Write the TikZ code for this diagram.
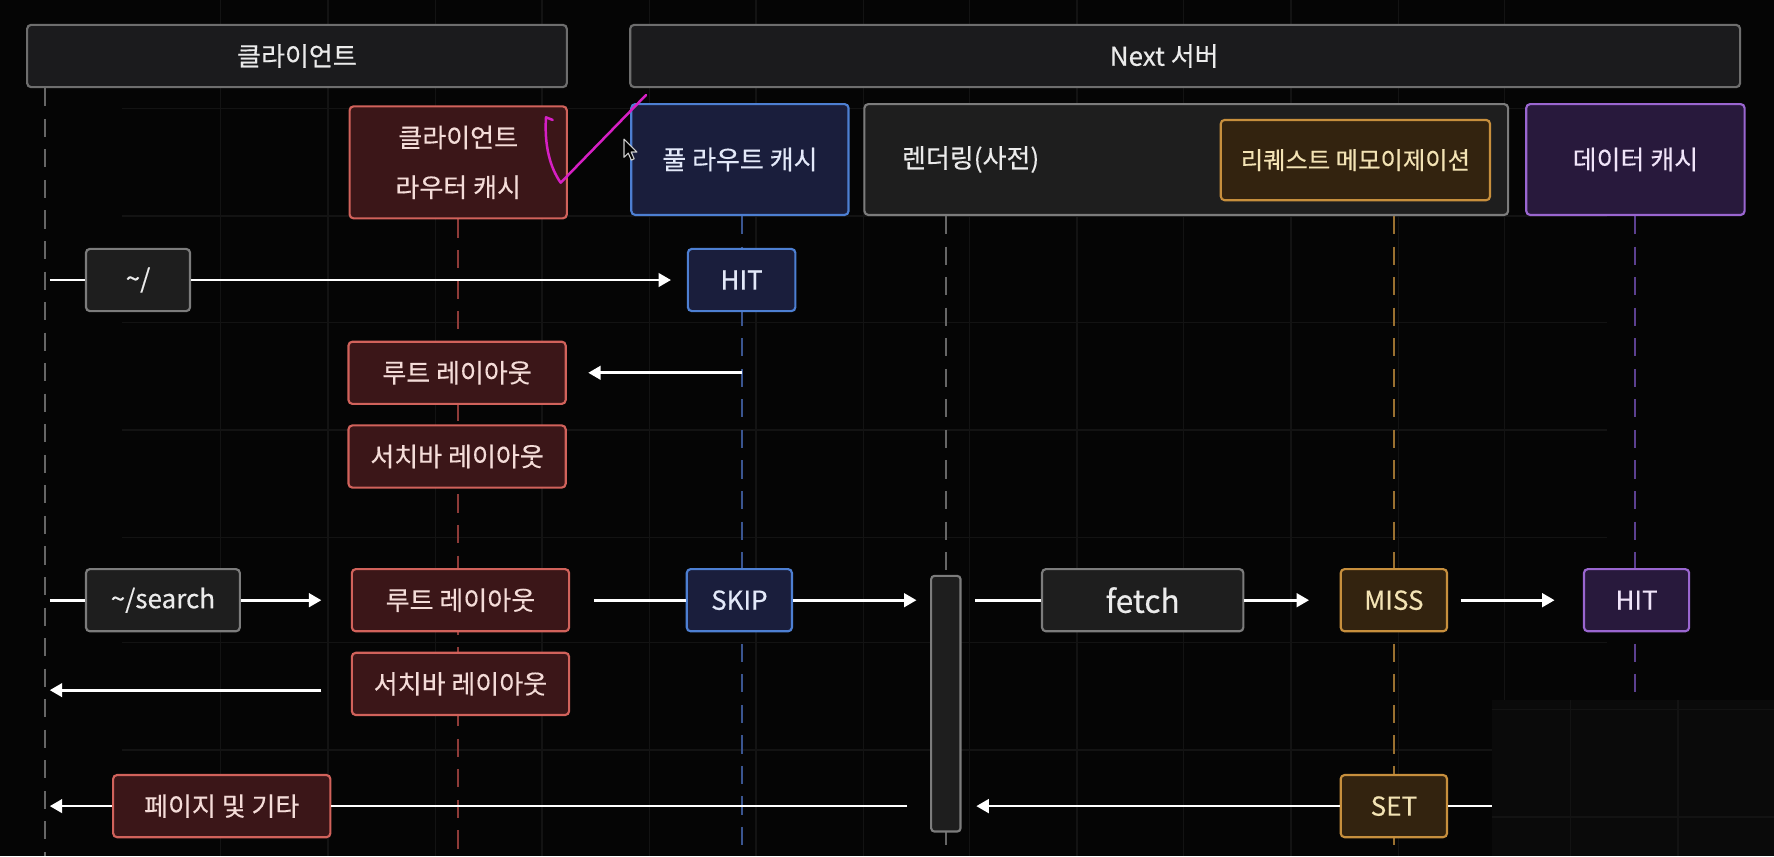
\documentclass[tikz,border=0pt]{standalone}
\usepackage{fontspec}
\setmainfont{Noto Sans CJK KR}[FakeBold=0.35]
\usetikzlibrary{arrows.meta}
\definecolor{bgc}{HTML}{050505}
\definecolor{gridc}{HTML}{131313}
\definecolor{hdrfill}{HTML}{1B1B1D}
\definecolor{hdrdraw}{HTML}{6E6E6E}
\definecolor{grayfill}{HTML}{1E1E1E}
\definecolor{graydraw}{HTML}{7C7C7C}
\definecolor{redfill}{HTML}{3B1618}
\definecolor{reddraw}{HTML}{D1625B}
\definecolor{redtext}{HTML}{F4DCD8}
\definecolor{bluefill}{HTML}{1A1E3C}
\definecolor{bluedraw}{HTML}{4D7FD2}
\definecolor{bluetext}{HTML}{E3E9F9}
\definecolor{orfill}{HTML}{33230F}
\definecolor{ordraw}{HTML}{C78F3D}
\definecolor{ortext}{HTML}{F3E3B4}
\definecolor{pufill}{HTML}{28193C}
\definecolor{pudraw}{HTML}{9A66D0}
\definecolor{putext}{HTML}{F0E4F9}
\definecolor{lgray}{HTML}{666666}
\definecolor{lred}{HTML}{8E3B38}
\definecolor{lblue}{HTML}{3A5590}
\definecolor{lorange}{HTML}{9A7030}
\definecolor{lpurple}{HTML}{5C4090}
\definecolor{pinkc}{HTML}{D61FC4}
\definecolor{txt}{HTML}{EBEBEB}
\definecolor{patchc}{HTML}{0A0A0A}
\begin{document}
\begin{tikzpicture}[x=1pt,y=-1pt,
  box/.style={rounded corners=3.5pt, line width=1.9pt, inner sep=0pt, align=center,
    font=\fontsize{23}{27}\selectfont},
  hdrbox/.style={box, fill=hdrfill, draw=hdrdraw, text=txt},
  graybox/.style={box, fill=grayfill, draw=graydraw, text=txt},
  redbox/.style={box, fill=redfill, draw=reddraw, text=redtext},
  bluebox/.style={box, fill=bluefill, draw=bluedraw, text=bluetext},
  orbox/.style={box, fill=orfill, draw=ordraw, text=ortext},
  pubox/.style={box, fill=pufill, draw=pudraw, text=putext},
  latin/.style={font=\fontsize{23}{27}\selectfont},
  rowbox/.style={minimum height=55pt},
  lifeline/.style={line width=1.7pt, dash pattern=on 16pt off 11pt},
  ln/.style={draw=white, line width=2.4pt},
  arr/.style={ln, -{Triangle[length=11pt,width=12pt]}},
]
\useasboundingbox (0,0) rectangle (1568,757);
\fill[bgc] (0,0) rectangle (1568,757);
% faint background grid
\foreach \x in {195,290,385,479,574,668,763,857,952,1046,1141,1236,1330}
  \draw[gridc, line width=1.3pt] (\x,0) -- (\x,757);
\foreach \y in {96,191,285,380,475,568,663}
  \draw[gridc, line width=1.3pt] (108,\y) -- (1420,\y);
\fill[patchc] (1319,619) rectangle (1568,757);
\foreach \y in {627,722}
  \draw[gridc, line width=1.3pt] (1319,\y) -- (1568,\y);
\foreach \x in {1388,1483}
  \draw[gridc, line width=1.3pt] (\x,619) -- (\x,757);

% lifelines
\draw[lifeline, lgray] (40,78) -- (40,757);
\draw[lifeline, lred] (405,194) -- (405,757);
\draw[lifeline, lblue] (656,191) -- (656,757);
\draw[lifeline, lgray] (836,191) -- (836,757);
\draw[lifeline, lorange] (1232,191) -- (1232,757);
\draw[lifeline, lpurple] (1445,191) -- (1445,619);

% headers
\node[hdrbox, minimum width=477pt, minimum height=55pt] (clienthdr) at (262.5,49.5) {클라이언트};
\node[hdrbox, minimum width=981pt, minimum height=55pt] (serverhdr) at (1047.5,49.5) {};
\node[text=txt, font=\fontsize{23}{27}\selectfont, inner sep=0pt] (servertxt) at (1029,49.5) {Next 서버};

% top row
\node[redbox, minimum width=192pt, minimum height=99pt, font=\fontsize{23}{44}\selectfont] (rcache) at (405,143.5) {클라이언트\\라우터 캐시};
\node[bluebox, minimum width=192pt, minimum height=98pt] (frcache) at (654,141) {풀 라우트 캐시};
\node[graybox, minimum width=569pt, minimum height=98pt] (render) at (1048.5,141) {};
\node[text=txt, font=\fontsize{23}{27}\selectfont, inner sep=0pt, anchor=west] (rendertxt) at (797,141) {렌더링(사전)};
\node[orbox, minimum width=238pt, minimum height=71pt, font=\fontsize{21.5}{25}\selectfont] (memo) at (1198,141.5) {리퀘스트 메모이제이션};
\node[pubox, minimum width=193pt, minimum height=98pt] (dcache) at (1445.5,141) {데이터 캐시};

% row 1
\node[graybox, rowbox, latin, minimum width=92pt] (tilde) at (122,247.5) {\char"007E/};
\node[bluebox, rowbox, latin, minimum width=95pt] (hitone) at (655.5,247.5) {HIT};
% row 2,3
\node[redbox, rowbox, minimum width=192pt] (rootone) at (404,329.5) {루트 레이아웃};
\node[redbox, rowbox, minimum width=192pt] (sbarone) at (404,403.5) {서치바 레이아웃};
% row 4
\node[graybox, rowbox, latin, minimum width=136pt] (search) at (144,530.5) {\char"007E/search};
\node[redbox, rowbox, minimum width=192pt] (roottwo) at (407,530.5) {루트 레이아웃};
\node[bluebox, rowbox, latin, minimum width=93pt] (skip) at (653.5,530.5) {SKIP};
\node[graybox, minimum width=26pt, minimum height=226pt, rounded corners=3pt] (bar) at (836,622) {};
\node[graybox, rowbox, minimum width=178pt, font=\fontsize{28}{32}\selectfont] (fetch) at (1010,530.5) {fetch};
\node[orbox, rowbox, latin, minimum width=94pt] (miss) at (1232,530.5) {MISS};
\node[pubox, rowbox, latin, minimum width=93pt] (hittwo) at (1446.5,530.5) {HIT};
% row 5
\node[redbox, rowbox, minimum width=192pt] (sbartwo) at (407,604.5) {서치바 레이아웃};
% row 6
\node[redbox, rowbox, minimum width=192pt] (page) at (196,712.5) {페이지 및 기타};
\node[orbox, rowbox, latin, minimum width=94pt] (set) at (1232,712.5) {SET};

% connectors
\coordinate (r1s) at (44,247.5);
\draw[ln] (r1s) -- (tilde.west);
\draw[arr, shorten >=14pt] (tilde.east) -- (hitone.west);

\coordinate (r2s) at (656,329.5);
\draw[arr, shorten >=19pt] (r2s) -- (rootone.east);

\coordinate (r4s) at (44,530.5);
\draw[ln] (r4s) -- (search.west);
\draw[arr, shorten >=26pt] (search.east) -- (roottwo.west);
\draw[ln, shorten <=21pt] (roottwo.east) -- (skip.west);
\draw[arr, shorten >=12pt] (skip.east) -- (skip.east -| bar.west);
\draw[ln, shorten <=12pt] (skip.east -| bar.east) -- (fetch.west);
\draw[arr, shorten >=27pt] (fetch.east) -- (miss.west);
\draw[arr, shorten <=11pt, shorten >=25pt] (miss.east) -- (hittwo.west);

\coordinate (r5e) at (44,610);
\draw[arr, shorten <=26pt] (sbartwo.west |- r5e) -- (r5e);

\coordinate (r6e) at (44,712.5);
\coordinate (r6s) at (1318.5,712.5);
\draw[arr] (page.west) -- (r6e);
\draw[ln, shorten <=20pt] (page.east -| bar.west) -- (page.east);
\draw[ln] (r6s) -- (set.east);
\draw[arr, shorten >=13pt] (set.west) -- (set.west -| bar.east);

% hand-drawn annotation
\draw[pinkc, line width=2.2pt, line cap=round, line join=round]
  (488.5,106) -- (482.6,103.7) .. controls (481,128) and (486,148) .. (495.6,161.5) -- (571,84);
% mouse pointer
\draw[fill=black, draw=white!80!black, line width=1pt, line join=round]
  (551.5,123) -- ++(0,16) -- ++(3.8,-3.6) -- ++(2.7,6.1) -- ++(2.5,-1.1) -- ++(-2.6,-6) -- ++(5.1,0) -- cycle;
\end{tikzpicture}
\end{document}
